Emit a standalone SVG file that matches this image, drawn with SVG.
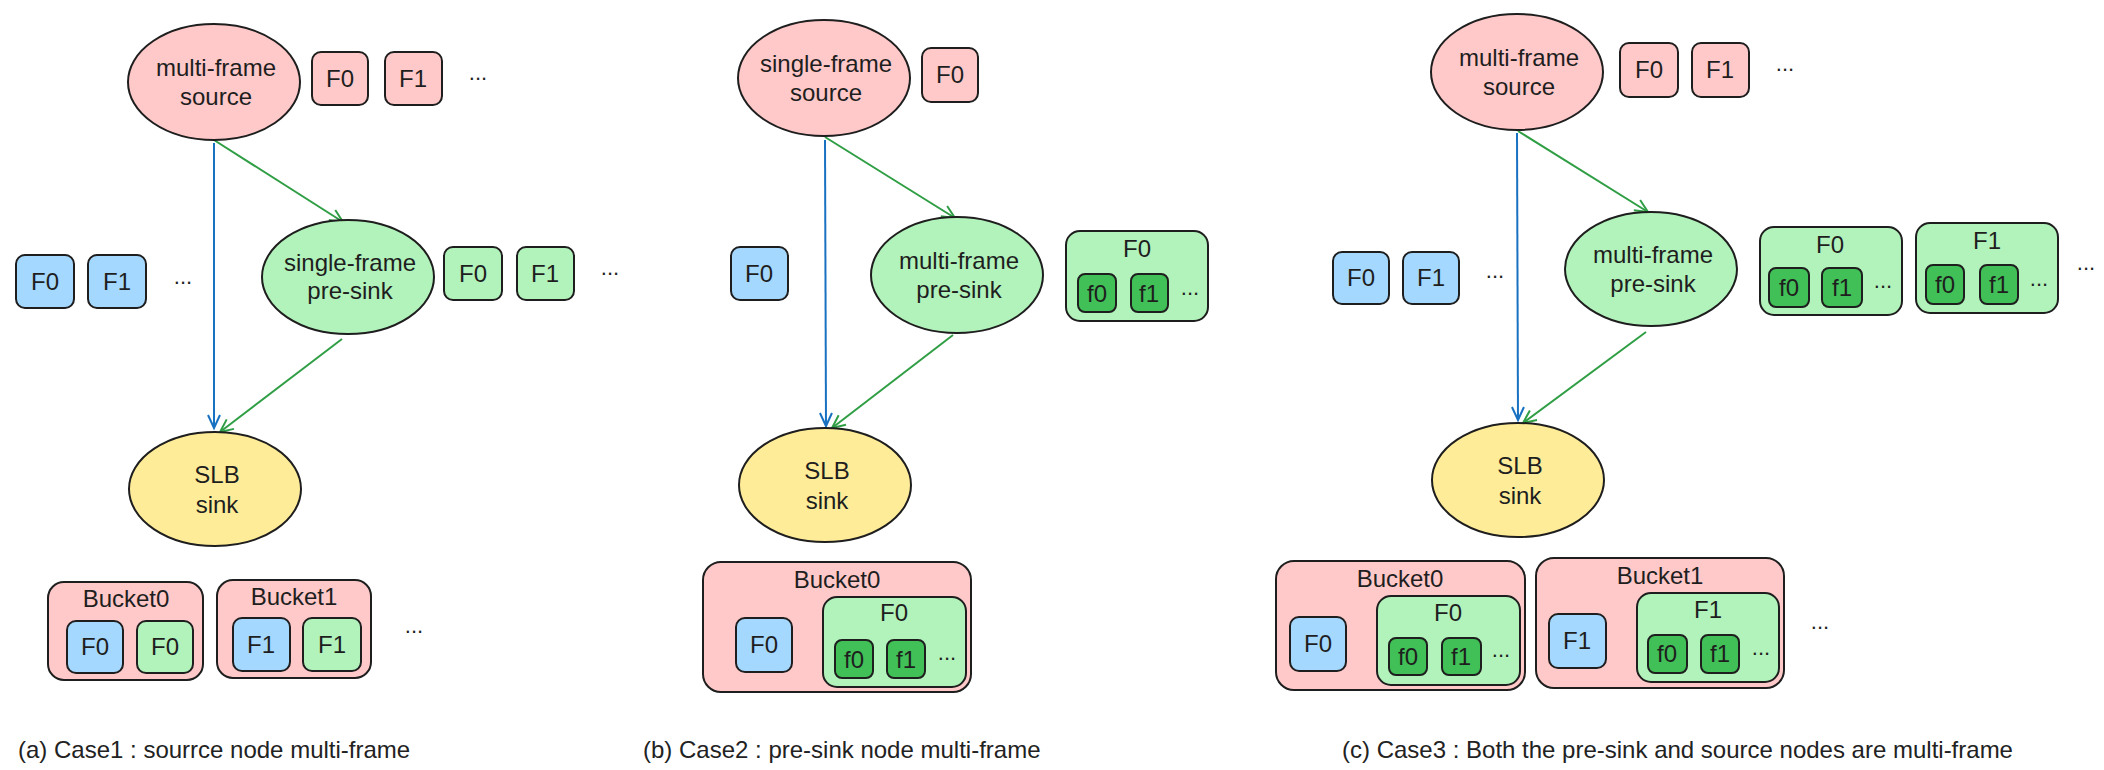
<svg xmlns="http://www.w3.org/2000/svg" width="2104" height="770" viewBox="0 0 2104 770">
<style>
.p{fill:#ffc9c9;stroke:#1e1e1e;stroke-width:2}
.g{fill:#b2f2bb;stroke:#1e1e1e;stroke-width:2}
.b{fill:#a5d8ff;stroke:#1e1e1e;stroke-width:2}
.y{fill:#ffec99;stroke:#1e1e1e;stroke-width:2}
.d{fill:#40c057;stroke:#1e1e1e;stroke-width:2}
.t{font-family:"Liberation Sans",Arial,sans-serif;font-size:24px;fill:#1e1e1e;text-anchor:middle}
.s{font-family:"Liberation Sans",Arial,sans-serif;font-size:22px;fill:#1e1e1e;text-anchor:middle}
.dots{font-family:"Liberation Sans",Arial,sans-serif;font-size:22px;fill:#1e1e1e;text-anchor:middle}
.cap{font-family:"Liberation Sans",Arial,sans-serif;font-size:24px;fill:#222}
.ab{stroke:#1971c2;stroke-width:2;fill:none;marker-end:url(#mb)}
.ag{stroke:#2f9e44;stroke-width:2;fill:none;marker-end:url(#mg)}
</style>
<defs>
<marker id="mb" markerUnits="userSpaceOnUse" markerWidth="18" markerHeight="18" refX="15" refY="9" orient="auto"><path d="M2,3 L15,9 L2,15" fill="none" stroke="#1971c2" stroke-width="2"/></marker>
<marker id="mg" markerUnits="userSpaceOnUse" markerWidth="18" markerHeight="18" refX="15" refY="9" orient="auto"><path d="M2,3 L15,9 L2,15" fill="none" stroke="#2f9e44" stroke-width="2"/></marker>
</defs>
<rect width="2104" height="770" fill="#ffffff"/>

<g id="connectors">
<line class="ab" x1="214" y1="143" x2="214" y2="428"/>
<line class="ag" x1="214" y1="140" x2="343" y2="222"/>
<line class="ag" x1="342" y1="339" x2="220" y2="432"/>
<line class="ab" x1="825" y1="140" x2="826" y2="426"/>
<line class="ag" x1="825" y1="137" x2="955" y2="218"/>
<line class="ag" x1="953" y1="335" x2="832" y2="428"/>
<line class="ab" x1="1517" y1="133" x2="1518" y2="420"/>
<line class="ag" x1="1518" y1="131" x2="1648" y2="212"/>
<line class="ag" x1="1646" y1="332" x2="1523" y2="423"/>
</g>

<!-- Case a -->
<g id="a-source"><ellipse class="p" cx="214" cy="82" rx="86" ry="58"/><text class="t" x="216" y="76">multi-frame</text><text class="t" x="216" y="105">source</text></g>
<g id="a-src-frames">
<rect class="p" x="312" y="52" width="56" height="53" rx="9"/><text class="t" x="340" y="87">F0</text>
<rect class="p" x="385" y="52" width="57" height="53" rx="9"/><text class="t" x="413" y="87">F1</text>
<text class="dots" x="478" y="80">...</text>
</g>
<g id="a-presink"><ellipse class="g" cx="348" cy="277" rx="86" ry="57"/><text class="t" x="350" y="271">single-frame</text><text class="t" x="350" y="299">pre-sink</text></g>
<g id="a-blue-frames">
<rect class="b" x="16" y="255" width="58" height="53" rx="9"/><text class="t" x="45" y="290">F0</text>
<rect class="b" x="88" y="255" width="58" height="53" rx="9"/><text class="t" x="117" y="290">F1</text>
<text class="dots" x="183" y="284">...</text>
</g>
<g id="a-green-frames">
<rect class="g" x="444" y="247" width="58" height="53" rx="9"/><text class="t" x="473" y="282">F0</text>
<rect class="g" x="517" y="247" width="57" height="53" rx="9"/><text class="t" x="545" y="282">F1</text>
<text class="dots" x="610" y="275">...</text>
</g>
<g id="a-sink"><ellipse class="y" cx="215" cy="489" rx="86" ry="57"/><text class="t" x="217" y="483">SLB</text><text class="t" x="217" y="513">sink</text></g>
<g id="a-bucket0">
<rect class="p" x="48" y="582" width="155" height="98" rx="16"/><text class="t" x="126" y="607">Bucket0</text>
<rect class="b" x="67" y="621" width="56" height="52" rx="9"/><text class="t" x="95" y="655">F0</text>
<rect class="g" x="137" y="621" width="56" height="52" rx="9"/><text class="t" x="165" y="655">F0</text>
</g>
<g id="a-bucket1">
<rect class="p" x="217" y="580" width="154" height="98" rx="16"/><text class="t" x="294" y="605">Bucket1</text>
<rect class="b" x="233" y="618" width="57" height="53" rx="9"/><text class="t" x="261" y="653">F1</text>
<rect class="g" x="303" y="618" width="58" height="53" rx="9"/><text class="t" x="332" y="653">F1</text>
</g>
<text class="dots" x="414" y="633">...</text>
<text class="cap" x="18" y="758">(a) Case1 : sourrce node multi-frame</text>

<!-- Case b -->
<g id="b-source"><ellipse class="p" cx="824" cy="78" rx="86" ry="58"/><text class="t" x="826" y="72">single-frame</text><text class="t" x="826" y="101">source</text></g>
<g id="b-src-frames"><rect class="p" x="922" y="48" width="56" height="54" rx="9"/><text class="t" x="950" y="83">F0</text></g>
<g id="b-presink"><ellipse class="g" cx="957" cy="275" rx="86" ry="58"/><text class="t" x="959" y="269">multi-frame</text><text class="t" x="959" y="298">pre-sink</text></g>
<g id="b-blue-frames"><rect class="b" x="731" y="247" width="57" height="53" rx="9"/><text class="t" x="759" y="282">F0</text></g>
<g id="b-green-frames">
<rect class="g" x="1066" y="231" width="142" height="90" rx="14"/><text class="t" x="1137" y="257">F0</text>
<rect class="d" x="1078" y="274" width="38" height="38" rx="7"/><text class="t" x="1097" y="302">f0</text>
<rect class="d" x="1131" y="274" width="37" height="38" rx="7"/><text class="t" x="1149" y="302">f1</text>
<text class="dots" x="1190" y="295">...</text>
</g>
<g id="b-sink"><ellipse class="y" cx="825" cy="485" rx="86" ry="57"/><text class="t" x="827" y="479">SLB</text><text class="t" x="827" y="509">sink</text></g>
<g id="b-bucket0">
<rect class="p" x="703" y="562" width="268" height="130" rx="18"/><text class="t" x="837" y="588">Bucket0</text>
<rect class="b" x="736" y="618" width="56" height="54" rx="9"/><text class="t" x="764" y="653">F0</text>
<rect class="g" x="823" y="597" width="143" height="90" rx="14"/><text class="t" x="894" y="621">F0</text>
<rect class="d" x="835" y="640" width="38" height="38" rx="7"/><text class="t" x="854" y="668">f0</text>
<rect class="d" x="887" y="640" width="38" height="38" rx="7"/><text class="t" x="906" y="668">f1</text>
<text class="dots" x="947" y="660">...</text>
</g>
<text class="cap" x="643" y="758">(b) Case2 : pre-sink node multi-frame</text>

<!-- Case c -->
<g id="c-source"><ellipse class="p" cx="1517" cy="72" rx="86" ry="58"/><text class="t" x="1519" y="66">multi-frame</text><text class="t" x="1519" y="95">source</text></g>
<g id="c-src-frames">
<rect class="p" x="1620" y="43" width="58" height="54" rx="9"/><text class="t" x="1649" y="78">F0</text>
<rect class="p" x="1692" y="43" width="57" height="54" rx="9"/><text class="t" x="1720" y="78">F1</text>
<text class="dots" x="1785" y="71">...</text>
</g>
<g id="c-presink"><ellipse class="g" cx="1651" cy="269" rx="86" ry="57"/><text class="t" x="1653" y="263">multi-frame</text><text class="t" x="1653" y="292">pre-sink</text></g>
<g id="c-blue-frames">
<rect class="b" x="1333" y="252" width="56" height="52" rx="9"/><text class="t" x="1361" y="286">F0</text>
<rect class="b" x="1403" y="252" width="56" height="52" rx="9"/><text class="t" x="1431" y="286">F1</text>
<text class="dots" x="1495" y="278">...</text>
</g>
<g id="c-green-frames">
<rect class="g" x="1760" y="227" width="142" height="88" rx="14"/><text class="t" x="1830" y="253">F0</text>
<rect class="d" x="1769" y="268" width="40" height="39" rx="7"/><text class="t" x="1789" y="296">f0</text>
<rect class="d" x="1822" y="268" width="40" height="39" rx="7"/><text class="t" x="1842" y="296">f1</text>
<text class="dots" x="1883" y="288">...</text>
<rect class="g" x="1916" y="223" width="142" height="90" rx="14"/><text class="t" x="1987" y="249">F1</text>
<rect class="d" x="1926" y="265" width="38" height="39" rx="7"/><text class="t" x="1945" y="293">f0</text>
<rect class="d" x="1980" y="265" width="38" height="39" rx="7"/><text class="t" x="1999" y="293">f1</text>
<text class="dots" x="2039" y="286">...</text>
<text class="dots" x="2086" y="270">...</text>
</g>
<g id="c-sink"><ellipse class="y" cx="1518" cy="480" rx="86" ry="57"/><text class="t" x="1520" y="474">SLB</text><text class="t" x="1520" y="504">sink</text></g>
<g id="c-bucket0">
<rect class="p" x="1276" y="561" width="249" height="129" rx="18"/><text class="t" x="1400" y="587">Bucket0</text>
<rect class="b" x="1290" y="617" width="56" height="54" rx="9"/><text class="t" x="1318" y="652">F0</text>
<rect class="g" x="1377" y="596" width="143" height="89" rx="14"/><text class="t" x="1448" y="621">F0</text>
<rect class="d" x="1389" y="638" width="38" height="37" rx="7"/><text class="t" x="1408" y="665">f0</text>
<rect class="d" x="1442" y="638" width="39" height="37" rx="7"/><text class="t" x="1461" y="665">f1</text>
<text class="dots" x="1501" y="657">...</text>
</g>
<g id="c-bucket1">
<rect class="p" x="1536" y="558" width="248" height="130" rx="18"/><text class="t" x="1660" y="584">Bucket1</text>
<rect class="b" x="1549" y="614" width="57" height="54" rx="9"/><text class="t" x="1577" y="649">F1</text>
<rect class="g" x="1637" y="593" width="142" height="89" rx="14"/><text class="t" x="1708" y="618">F1</text>
<rect class="d" x="1648" y="635" width="39" height="38" rx="7"/><text class="t" x="1667" y="662">f0</text>
<rect class="d" x="1701" y="635" width="38" height="38" rx="7"/><text class="t" x="1720" y="662">f1</text>
<text class="dots" x="1761" y="655">...</text>
</g>
<text class="dots" x="1820" y="629">...</text>
<text class="cap" x="1342" y="758">(c) Case3 : Both the pre-sink and source nodes are multi-frame</text>
</svg>
